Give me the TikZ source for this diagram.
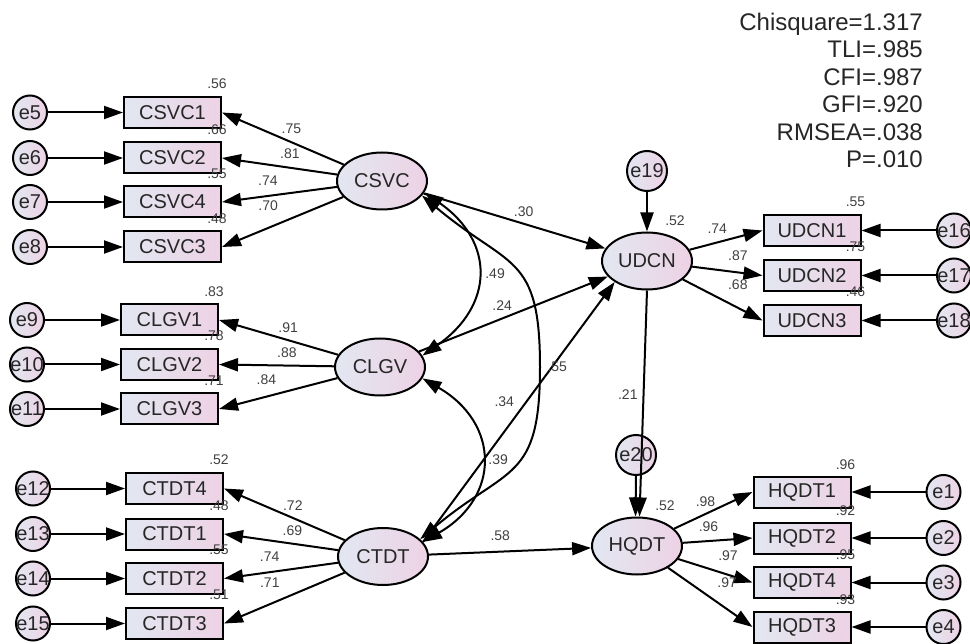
\documentclass[tikz,border=0pt]{standalone}
\usepackage{fontspec}
\setmainfont{Liberation Sans}
\usepackage{tikz}
\usetikzlibrary{arrows.meta,shapes.geometric,positioning,calc}
\definecolor{shadeleft}{RGB}{226,231,241}
\definecolor{shaderight}{RGB}{237,210,229}

\begin{document}
\begin{tikzpicture}[
  x=1pt, y=1pt,
  obsvar/.style={rectangle, draw, line width=2pt, minimum width=97pt, minimum height=31pt, inner sep=0pt,
    left color=shadeleft, right color=shaderight, text=black!85, font=\fontsize{20}{24}\selectfont},
  latent/.style={ellipse, draw, line width=2pt, minimum width=90pt, minimum height=57pt, inner sep=0pt,
    left color=shadeleft, right color=shaderight, text=black!85, font=\fontsize{20}{24}\selectfont},
  errvar/.style={circle, draw, line width=2pt, minimum size=34pt, inner sep=-1.5pt,
    left color=shadeleft, right color=shaderight, text=black!85, font=\fontsize{20}{24}\selectfont},
  coef/.style={inner sep=1pt, text=black!75, font=\fontsize{14}{16}\selectfont},
  link/.style={->, line width=2pt},
  cov/.style={<->, line width=2pt},
  >={Triangle[length=19pt,width=13pt]}
]
  \useasboundingbox (0,0) rectangle (970,-644);

  % fit indices
  \node[anchor=north east, align=right, inner sep=0pt, text=black!85,
        font=\fontsize{24}{27.4}\selectfont] (fit) at (923,-13)
    {Chisquare=1.317\\TLI=.985\\CFI=.987\\GFI=.920\\RMSEA=.038\\P=.010};

  % latent variables
  \node[latent] (CSVC) at (382,-181)   {CSVC};
  \node[latent] (CLGV) at (380,-367)   {CLGV};
  \node[latent] (CTDT) at (383,-556.5) {CTDT};
  \node[latent] (UDCN) at (647,-261)   {UDCN};
  \node[latent] (HQDT) at (637,-546)   {HQDT};

  % CSVC indicators
  \node[obsvar] (CSVC1) at (172.5,-112.5) {CSVC1};
  \node[obsvar] (CSVC2) at (172.5,-158)   {CSVC2};
  \node[obsvar] (CSVC4) at (172.5,-202)   {CSVC4};
  \node[obsvar] (CSVC3) at (172.5,-247)   {CSVC3};
  \node[errvar] (e5) at (30,-112.5) {e5};
  \node[errvar] (e6) at (30,-158)   {e6};
  \node[errvar] (e7) at (30,-202)   {e7};
  \node[errvar] (e8) at (30,-247)   {e8};

  % CLGV indicators
  \node[obsvar] (CLGV1) at (169.5,-320)   {CLGV1};
  \node[obsvar] (CLGV2) at (169.5,-364.5) {CLGV2};
  \node[obsvar] (CLGV3) at (169.5,-409)   {CLGV3};
  \node[errvar] (e9)  at (27,-320)   {e9};
  \node[errvar] (e10) at (27,-364.5) {e10};
  \node[errvar] (e11) at (27,-409)   {e11};

  % CTDT indicators
  \node[obsvar] (CTDT4) at (174.5,-488.5) {CTDT4};
  \node[obsvar] (CTDT1) at (174.5,-534)   {CTDT1};
  \node[obsvar] (CTDT2) at (174.5,-578.5) {CTDT2};
  \node[obsvar] (CTDT3) at (174.5,-623.5) {CTDT3};
  \node[errvar] (e12) at (33,-488.5) {e12};
  \node[errvar] (e13) at (33,-534)   {e13};
  \node[errvar] (e14) at (33,-578.5) {e14};
  \node[errvar] (e15) at (33,-623.5) {e15};

  % UDCN indicators
  \node[obsvar] (UDCN1) at (812,-230.5) {UDCN1};
  \node[obsvar] (UDCN2) at (812,-275.5) {UDCN2};
  \node[obsvar] (UDCN3) at (812,-320.5) {UDCN3};
  \node[errvar] (e16) at (954,-230.5) {e16};
  \node[errvar] (e17) at (954,-275.5) {e17};
  \node[errvar] (e18) at (954,-320.5) {e18};

  % HQDT indicators
  \node[obsvar] (HQDT1) at (802,-492)   {HQDT1};
  \node[obsvar] (HQDT2) at (802,-538)   {HQDT2};
  \node[obsvar] (HQDT4) at (802,-582.5) {HQDT4};
  \node[obsvar] (HQDT3) at (802,-627)   {HQDT3};
  \node[errvar] (e1) at (943.5,-492)   {e1};
  \node[errvar] (e2) at (943.5,-538)   {e2};
  \node[errvar] (e3) at (943.5,-582.5) {e3};
  \node[errvar] (e4) at (943.5,-627)   {e4};

  % disturbances
  \node[errvar, minimum size=40pt] (e19) at (647,-171) {e19};
  \node[errvar, minimum size=40pt] (e20) at (636,-455) {e20};

  % squared multiple correlations
  \node[coef] (rCSVC1) at ([xshift=-5pt,yshift=12pt]CSVC1.north east) {.56};
  \node[coef] (rCSVC2) at ([xshift=-5pt,yshift=12pt]CSVC2.north east) {.66};
  \node[coef] (rCSVC4) at ([xshift=-5pt,yshift=12pt]CSVC4.north east) {.55};
  \node[coef] (rCSVC3) at ([xshift=-5pt,yshift=12pt]CSVC3.north east) {.48};
  \node[coef] (rCLGV1) at ([xshift=-5pt,yshift=12pt]CLGV1.north east) {.83};
  \node[coef] (rCLGV2) at ([xshift=-5pt,yshift=12pt]CLGV2.north east) {.78};
  \node[coef] (rCLGV3) at ([xshift=-5pt,yshift=12pt]CLGV3.north east) {.71};
  \node[coef] (rCTDT4) at ([xshift=-5pt,yshift=12pt]CTDT4.north east) {.52};
  \node[coef] (rCTDT1) at ([xshift=-5pt,yshift=12pt]CTDT1.north east) {.48};
  \node[coef] (rCTDT2) at ([xshift=-5pt,yshift=12pt]CTDT2.north east) {.55};
  \node[coef] (rCTDT3) at ([xshift=-5pt,yshift=12pt]CTDT3.north east) {.51};
  \node[coef] (rUDCN1) at ([xshift=-6pt,yshift=12pt]UDCN1.north east) {.55};
  \node[coef] (rUDCN2) at ([xshift=-6pt,yshift=12pt]UDCN2.north east) {.75};
  \node[coef] (rUDCN3) at ([xshift=-6pt,yshift=12pt]UDCN3.north east) {.46};
  \node[coef] (rHQDT1) at ([xshift=-6pt,yshift=11pt]HQDT1.north east) {.96};
  \node[coef] (rHQDT2) at ([xshift=-6pt,yshift=11pt]HQDT2.north east) {.92};
  \node[coef] (rHQDT4) at ([xshift=-6pt,yshift=11pt]HQDT4.north east) {.95};
  \node[coef] (rHQDT3) at ([xshift=-6pt,yshift=11pt]HQDT3.north east) {.93};
  \node[coef] (rUDCN) at ([xshift=28pt,yshift=40pt]UDCN.center) {.52};
  \node[coef] (rHQDT) at ([xshift=28pt,yshift=40pt]HQDT.center) {.52};

  % error terms
  \draw[link] (e5) -- (CSVC1);
  \draw[link] (e6) -- (CSVC2);
  \draw[link] (e7) -- (CSVC4);
  \draw[link] (e8) -- (CSVC3);
  \draw[link] (e9) -- (CLGV1);
  \draw[link] (e10) -- (CLGV2);
  \draw[link] (e11) -- (CLGV3);
  \draw[link] (e12) -- (CTDT4);
  \draw[link] (e13) -- (CTDT1);
  \draw[link] (e14) -- (CTDT2);
  \draw[link] (e15) -- (CTDT3);
  \draw[link] (e16) -- (UDCN1);
  \draw[link] (e17) -- (UDCN2);
  \draw[link] (e18) -- (UDCN3);
  \draw[link] (e1) -- (HQDT1);
  \draw[link] (e2) -- (HQDT2);
  \draw[link] (e3) -- (HQDT4);
  \draw[link] (e4) -- (HQDT3);
  \draw[link] (e19) -- (UDCN);

  % loadings
  \draw[link] (CSVC) -- node[coef, pos=.43, above=7pt] (lCSVC1) {.75} (CSVC1.east);
  \draw[link] (CSVC) -- node[coef, pos=.41, above=7pt] (lCSVC2) {.81} (CSVC2.east);
  \draw[link] (CSVC) -- node[coef, pos=.6, above=8pt] (lCSVC4) {.74} (CSVC4.east);
  \draw[link] (CSVC) -- node[coef, pos=.62, above=15pt] (lCSVC3) {.70} (CSVC3.east);
  \draw[link] (CLGV) -- node[coef, pos=.42, above=5.5pt] (lCLGV1) {.91} (CLGV1.east);
  \draw[link] (CLGV) -- node[coef, pos=.41, above=5.5pt] (lCLGV2) {.88} (CLGV2.east);
  \draw[link] (CLGV) -- node[coef, pos=.6, above=10pt] (lCLGV3) {.84} (CLGV3.east);
  \draw[link] (CTDT) -- node[coef, pos=.43, above=5.5pt] (lCTDT4) {.72} (CTDT4.east);
  \draw[link] (CTDT) -- node[coef, pos=.4, above=6pt] (lCTDT1) {.69} (CTDT1.east);
  \draw[link] (CTDT) -- node[coef, pos=.6, above=9pt] (lCTDT2) {.74} (CTDT2.east);
  \draw[link] (CTDT) -- node[coef, pos=.62, above=15pt] (lCTDT3) {.71} (CTDT3.east);
  \draw[link] (UDCN) -- node[coef, pos=.38, above=6.5pt] (lUDCN1) {.74} (UDCN1.west);
  \draw[link] (UDCN) -- node[coef, pos=.65, above=9.5pt] (lUDCN2) {.87} (UDCN2.west);
  \draw[link] (UDCN) -- node[coef, pos=.69, above=16.5pt] (lUDCN3) {.68} (UDCN3.west);
  \draw[link] (HQDT) -- node[coef, pos=.4, above=5.5pt] (lHQDT1) {.98} (HQDT1.west);
  \draw[link] (HQDT) -- node[coef, pos=.37, above=7pt] (lHQDT2) {.96} (HQDT2.west);
  \draw[link] (HQDT) -- node[coef, pos=.67, above=12.5pt] (lHQDT4) {.97} (HQDT4.west);
  \draw[link] (HQDT) -- node[coef, pos=.7, above=20pt] (lHQDT3) {.97} (HQDT3.west);

  % structural paths
  \draw[link] (CSVC) -- node[coef, pos=.55, above=5.5pt] (pCSVC) {.30} (UDCN);
  \draw[link] (CLGV) -- node[coef, pos=.44, above=5.5pt] (pCLGV) {.24} (UDCN);
  \draw[link] (CTDT.20) -- node[coef, pos=.54, left=10.5pt] (pCTDT) {.34} (UDCN.213);
  \draw[link] (CTDT) -- node[coef, pos=.44, above=9pt] (pHQDT) {.58} (HQDT);
  \draw[link] (e20.south) -- ([xshift=-1.5pt]HQDT.north);
  \draw[link] (UDCN.south) -- node[coef, pos=.46, left=4pt] (pUDCN) {.21} ([xshift=2.5pt]HQDT.north);

  % covariances
  \coordinate (arcpeak) at (540,-367);
  \draw[cov] (CSVC.-15) to[out=-35, in=35, looseness=1.36] node[coef, right=6.5pt] (cSC) {.49} (CLGV.15);
  \draw[cov] (CLGV.-15) to[out=-30, in=30, looseness=1.4] node[coef, right=5.5pt] (cCT) {.39} (CTDT.20);
  \draw[cov] (CSVC.-20) to[out=-40, in=90, looseness=1.4] node[coef, pos=1, right=5.5pt] (cST) {.55} (arcpeak)
    to[out=-90, in=40, looseness=1.4] (CTDT.25);
\end{tikzpicture}
\end{document}
